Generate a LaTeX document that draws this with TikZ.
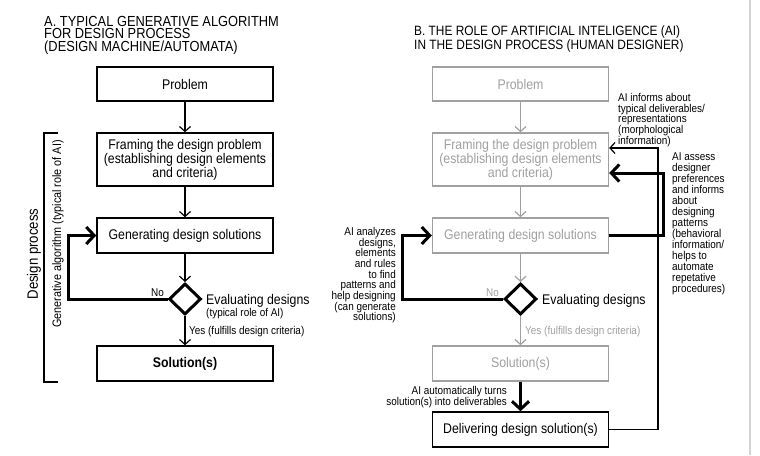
\documentclass[tikz,border=0pt]{standalone}
\usepackage{fontspec}
\setmainfont{Liberation Sans}[FakeStretch=0.88]
\usetikzlibrary{arrows.meta,shapes.geometric,calc}
\definecolor{lg}{HTML}{A0A0A0}
\definecolor{edgegray}{HTML}{D4D4D4}
\newcommand\fmain{\fontsize{14}{12.4}\selectfont}
\newcommand\ftitleA{\fontsize{14.6}{12.4}\selectfont}
\newcommand\ftitleB{\fontsize{13.5}{12.2}\selectfont}
\newcommand\fsmall{\fontsize{11.3}{10.7}\selectfont}
\begin{document}
\begin{tikzpicture}[x=1pt,y=-1pt,
  box/.style={draw, line width=1.4pt, minimum width=176pt, align=center, inner sep=0pt, font=\fmain},
  gbox/.style={box, draw=lg, text=lg},
  dia/.style={diamond, draw, line width=3pt, minimum width=32pt, minimum height=31pt, inner sep=0pt},
  thin/.style={line width=1.2pt, -{Straight Barb[length=5pt,width=11pt]}},
  thk/.style={line width=3pt, -{Straight Barb[length=8pt,width=17pt]}},
  small/.style={font=\fsmall, inner sep=0pt},
  ttl/.style={inner sep=0pt, anchor=north west, align=left}]
\useasboundingbox (0,0) rectangle (760,455);
\fill[white] (0,0) rectangle (760,455);
\draw[edgegray, line width=2.5pt] (750,0) -- (750,455);

% ---------- A ----------
\node[ttl, font=\ftitleA] (tA) at (44,16) {A. TYPICAL GENERATIVE ALGORITHM\\FOR DESIGN PROCESS\\(DESIGN MACHINE/AUTOMATA)};
\node[box, minimum height=34pt] (pA) at (185,84) {Problem};
\node[box, minimum height=53pt] (fA) at (185,159.5) {Framing the design problem\\(establishing design elements\\and criteria)};
\node[box, minimum height=35pt] (gA) at (185,235.5) {Generating design solutions};
\node[dia] (dA) at (185,299) {};
\node[box, minimum height=35pt, font=\fmain\bfseries] (sA) at (185,363.5) {Solution(s)};

\draw[thin] (pA) -- (fA);
\draw[thin] (fA) -- (gA);
\draw[thin] (gA) -- (dA);
\draw[thin] (dA) -- (sA);
\coordinate (lA1) at (68,299);
\draw[thk] (dA.west) -- (lA1) |- (gA.west);

\node[small] (noA) at (157.5,292.5) {No};
\node[font=\fmain, inner sep=0pt, anchor=base west] (eA) at (206,304) {Evaluating designs};
\node[small, anchor=base west] (eA2) at (206,316) {(typical role of AI)};
\node[small, anchor=base west] (yA) at (189,334) {Yes (fulfills design criteria)};

\coordinate (brT) at (58,133);
\coordinate (brB) at (58,382);
\draw[line width=1.2pt] (brT) -- (44,133) -- (44,382) -- (brB);
\node[rotate=90, font=\fontsize{15}{15}\selectfont, inner sep=0pt] (dp) at (34,254) {Design process};
\node[rotate=90, font=\fontsize{12.3}{12}\selectfont, inner sep=0pt] (ga) at (58,234) {Generative algorithm (typical role of AI)};

% ---------- B ----------
\node[ttl, font=\ftitleB] (tB) at (414,26) {B. THE ROLE OF ARTIFICIAL INTELIGENCE (AI)\\IN THE DESIGN PROCESS (HUMAN DESIGNER)};
\node[gbox, minimum height=34pt] (pB) at (520.5,84) {Problem};
\node[gbox, minimum height=53pt] (fB) at (520.5,159.5) {Framing the design problem\\(establishing design elements\\and criteria)};
\node[gbox, minimum height=35pt] (gB) at (520.5,235.5) {Generating design solutions};
\node[dia] (dB) at (520.5,299) {};
\node[gbox, minimum height=35pt] (sB) at (520.5,363.5) {Solution(s)};
\node[box, minimum height=35pt] (dlB) at (520.5,429.5) {Delivering design solution(s)};

\draw[thin, lg] (pB) -- (fB);
\draw[thin, lg] (fB) -- (gB);
\draw[thin, lg] (gB) -- (dB);
\draw[thin, lg] (dB) -- (sB);
\draw[thk] (sB) -- (dlB);
\coordinate (lB1) at (402,299);
\draw[thk] (dB.west) -- (lB1) |- (gB.west);
\coordinate (rB1) at (658,148);
\draw[thin] (dlB.east) -| (rB1) -- (fB.east |- rB1);
\coordinate (rB2) at (663,173);
\draw[thk] (gB.east) -| (rB2) -- (fB.east |- rB2);

\node[small, text=lg] (noB) at (492.5,292.5) {No};
\node[font=\fmain, inner sep=0pt, anchor=base west] (eB) at (542,304) {Evaluating designs};
\node[small, text=lg, anchor=base west] (yB) at (525,334) {Yes (fulfills design criteria)};

\node[small, anchor=north west, align=left] (n1) at (618,93) {AI informs about\\typical deliverables/\\representations\\(morphological\\information)};
\node[small, anchor=north west, align=left, font=\fontsize{11.3}{11}\selectfont] (n2) at (672,153) {AI assess\\designer\\preferences\\and informs\\about\\designing\\patterns\\(behavioral\\information/\\helps to\\automate\\repetative\\procedures)};
\node[small, anchor=north east, align=right] (n3) at (396,227) {AI analyzes\\designs,\\elements\\and rules\\to find\\patterns and\\help designing\\(can generate\\solutions)};
\node[small, anchor=north east, align=right] (n4) at (507,386) {AI automatically turns\\solution(s) into deliverables};
\end{tikzpicture}
\end{document}
